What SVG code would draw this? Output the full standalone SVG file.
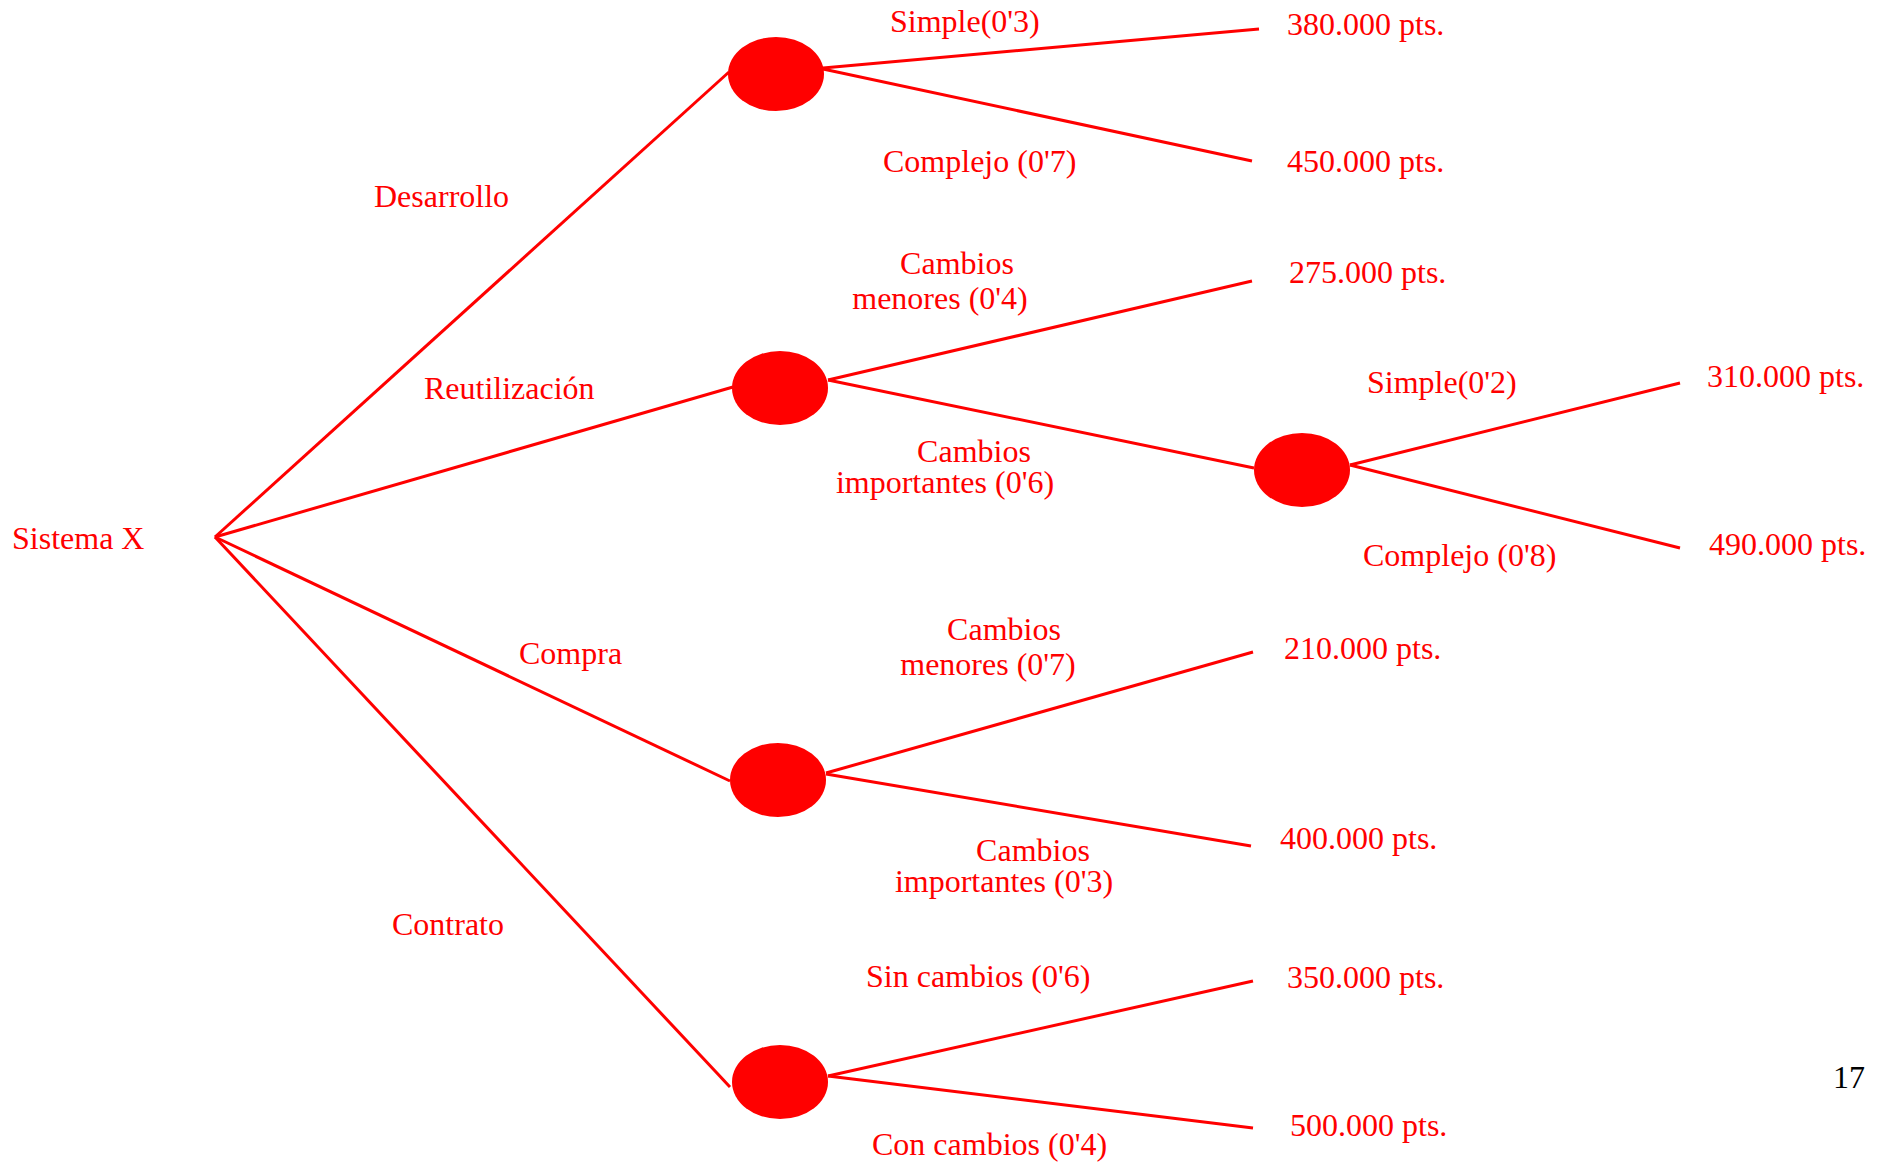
<svg xmlns="http://www.w3.org/2000/svg" width="1884" height="1169" viewBox="0 0 1884 1169">
<style>
.t{font-family:"Liberation Serif","Times New Roman",serif;font-size:32px;fill:#ff0000}
.c{text-anchor:middle}
.n{fill:#ff0000}
.e{stroke:#ff0000;stroke-width:3;fill:none}
</style>
<rect width="1884" height="1169" fill="#ffffff"/>
<g id="connectors">
<line class="e" x1="215" y1="537" x2="729" y2="72"/>
<line class="e" x1="215" y1="537" x2="733" y2="387"/>
<line class="e" x1="215" y1="537" x2="730" y2="781"/>
<line class="e" x1="215" y1="537" x2="730" y2="1087"/>
<line class="e" x1="823" y1="68" x2="1259" y2="29"/>
<line class="e" x1="823" y1="69" x2="1252" y2="161"/>
<line class="e" x1="828" y1="380" x2="1252" y2="281"/>
<line class="e" x1="828" y1="380" x2="1254" y2="468"/>
<line class="e" x1="1350" y1="465" x2="1680" y2="383"/>
<line class="e" x1="1350" y1="465" x2="1680" y2="548"/>
<line class="e" x1="826" y1="773" x2="1253" y2="652"/>
<line class="e" x1="826" y1="774" x2="1251" y2="846"/>
<line class="e" x1="828" y1="1076" x2="1253" y2="981"/>
<line class="e" x1="828" y1="1076" x2="1253" y2="1128"/>
</g>
<g id="root"><text class="t" x="12" y="549">Sistema X</text></g>
<g id="node-desarrollo"><ellipse class="n" cx="776" cy="74" rx="48" ry="37"/></g>
<g id="node-reutilizacion"><ellipse class="n" cx="780" cy="388" rx="48" ry="37"/></g>
<g id="node-cambios-importantes"><ellipse class="n" cx="1302" cy="470" rx="48" ry="37"/></g>
<g id="node-compra"><ellipse class="n" cx="778" cy="780" rx="48" ry="37"/></g>
<g id="node-contrato"><ellipse class="n" cx="780" cy="1082" rx="48" ry="37"/></g>
<g id="labels">
<text class="t" x="374" y="207">Desarrollo</text>
<text class="t" x="424" y="399">Reutilización</text>
<text class="t" x="519" y="664">Compra</text>
<text class="t" x="392" y="935">Contrato</text>
<text class="t" x="890" y="32">Simple(0'3)</text>
<text class="t" x="883" y="172">Complejo (0'7)</text>
<text class="t c" x="957" y="274">Cambios</text>
<text class="t c" x="940" y="309">menores (0'4)</text>
<text class="t c" x="974" y="462">Cambios</text>
<text class="t c" x="945" y="493">importantes (0'6)</text>
<text class="t" x="1367" y="393">Simple(0'2)</text>
<text class="t" x="1363" y="566">Complejo (0'8)</text>
<text class="t c" x="1004" y="640">Cambios</text>
<text class="t c" x="988" y="675">menores (0'7)</text>
<text class="t c" x="1033" y="861">Cambios</text>
<text class="t c" x="1004" y="892">importantes (0'3)</text>
<text class="t" x="866" y="987">Sin cambios (0'6)</text>
<text class="t" x="872" y="1155">Con cambios (0'4)</text>
</g>
<g id="outcomes">
<text class="t" x="1287" y="35">380.000 pts.</text>
<text class="t" x="1287" y="172">450.000 pts.</text>
<text class="t" x="1289" y="283">275.000 pts.</text>
<text class="t" x="1707" y="387">310.000 pts.</text>
<text class="t" x="1709" y="555">490.000 pts.</text>
<text class="t" x="1284" y="659">210.000 pts.</text>
<text class="t" x="1280" y="849">400.000 pts.</text>
<text class="t" x="1287" y="988">350.000 pts.</text>
<text class="t" x="1290" y="1136">500.000 pts.</text>
</g>
<text x="1833" y="1088" style="font-family:'Liberation Serif','Times New Roman',serif;font-size:32px;fill:#000000">17</text>
</svg>
